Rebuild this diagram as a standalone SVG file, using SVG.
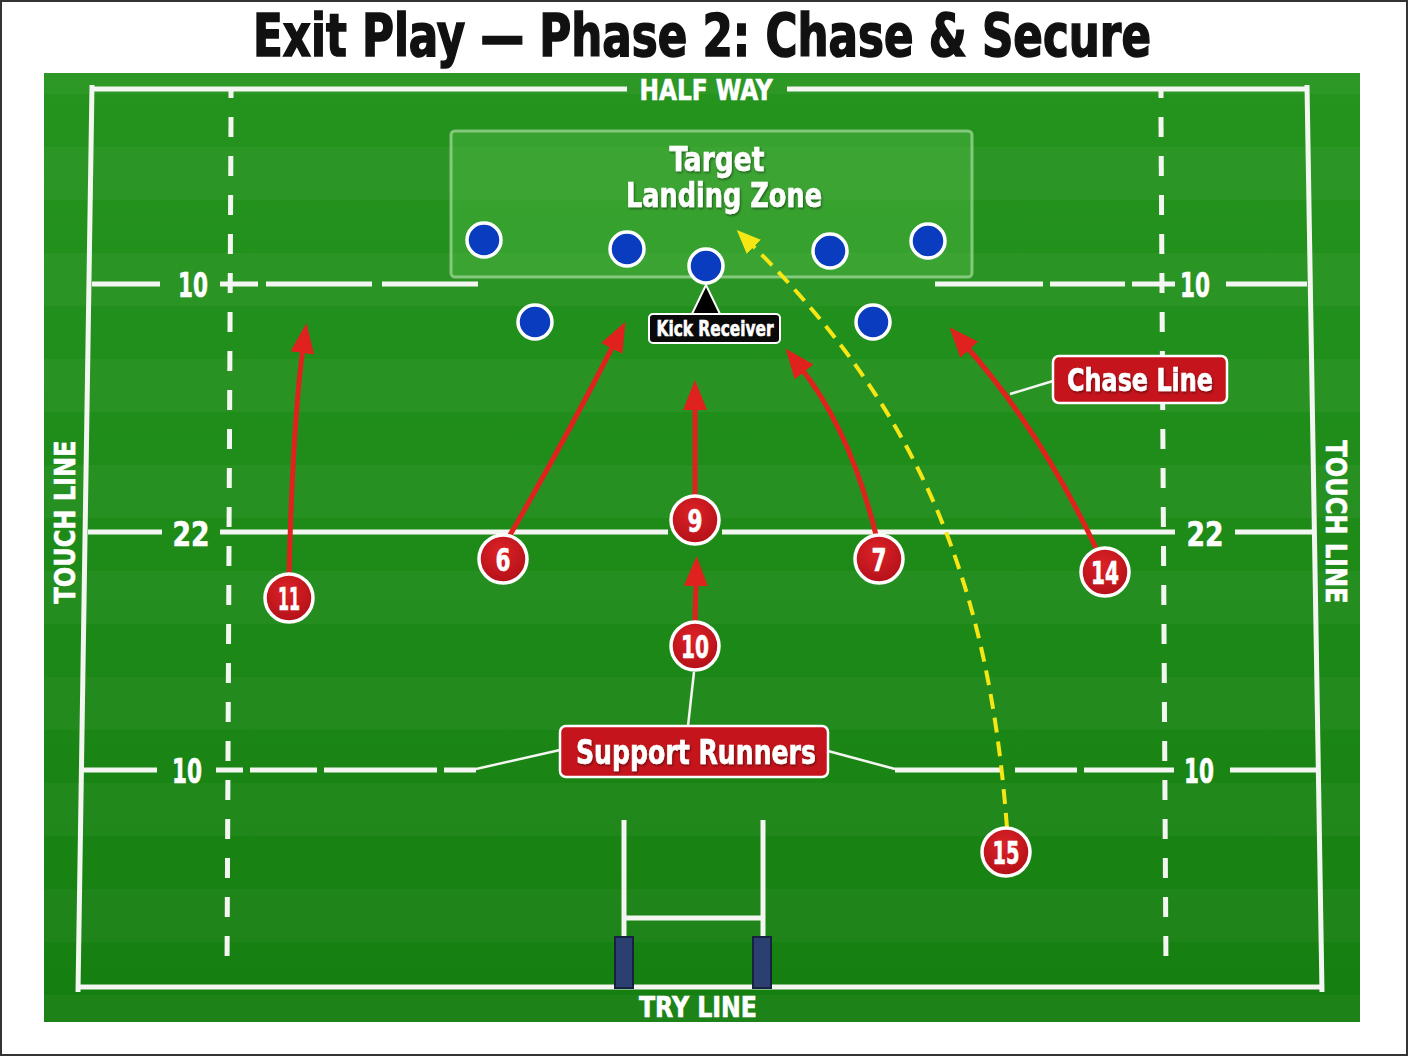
<svg xmlns="http://www.w3.org/2000/svg" width="1408" height="1056" viewBox="0 0 1408 1056">
<defs>
<linearGradient id="fieldGrad" x1="0" y1="0" x2="0" y2="1">
<stop offset="0" stop-color="#25941e"/>
<stop offset="0.5" stop-color="#1e8b19"/>
<stop offset="1" stop-color="#157e10"/>
</linearGradient>
<pattern id="stripes" x="0" y="41" width="1408" height="106" patternUnits="userSpaceOnUse">
<rect x="0" y="0" width="1408" height="53" fill="#ffffff" fill-opacity="0.035"/>
</pattern>
<radialGradient id="redGrad" cx="0.45" cy="0.35" r="0.7">
<stop offset="0" stop-color="#dc2227"/>
<stop offset="1" stop-color="#b10f18"/>
</radialGradient>
<filter id="shadow" x="-20%" y="-20%" width="140%" height="140%">
<feDropShadow dx="1" dy="1.5" stdDeviation="1.2" flood-color="#000" flood-opacity="0.45"/>
</filter>
<marker id="redHead" markerUnits="userSpaceOnUse" markerWidth="32" markerHeight="26" refX="5" refY="12" orient="auto">
<path d="M0,0 L30,12 L0,24 z" fill="#e0221e"/>
</marker>
<marker id="yelHead" markerUnits="userSpaceOnUse" markerWidth="26" markerHeight="22" refX="4" refY="10" orient="auto">
<path d="M0,0 L24,10 L0,20 z" fill="#f5e614"/>
</marker>
</defs>
<style>
.line{stroke:#f4f6f2;stroke-width:5;fill:none}
.dash{stroke:#f4f6f2;stroke-width:5;fill:none;stroke-dasharray:20 19}
.thin{stroke:#f4f6f2;stroke-width:2.5;fill:none}
.lbl{font-family:"Liberation Sans Narrow","DejaVu Sans Condensed","Roboto",sans-serif;font-weight:bold;fill:#ffffff;text-anchor:middle;stroke:#ffffff;stroke-width:0.6}
.num{font-family:"Liberation Sans Narrow","DejaVu Sans Condensed","Roboto",sans-serif;font-weight:bold;fill:#ffffff;text-anchor:middle;font-size:34px;stroke:#ffffff;stroke-width:0.6}
.pnum{font-family:"Liberation Sans Narrow","DejaVu Sans Condensed","Roboto",sans-serif;font-weight:bold;fill:#ffffff;text-anchor:middle;font-size:32px;stroke:#ffffff;stroke-width:0.6}
.red{fill:url(#redGrad);stroke:#ffffff;stroke-width:3.5}
.blue{fill:#0a3cc0;stroke:#ffffff;stroke-width:3.5}
.run{stroke:#e0221e;stroke-width:5;fill:none;marker-end:url(#redHead)}
.box{fill:#c5141c;stroke:#ffffff;stroke-width:2.5}
</style>
<rect x="0" y="0" width="1408" height="1056" fill="#ffffff"/>
<rect x="1" y="1" width="1406" height="1054" fill="none" stroke="#333333" stroke-width="2"/>
<text x="702" y="56" font-family="Liberation Sans Narrow,DejaVu Sans Condensed,Roboto,sans-serif" font-weight="bold" font-size="58" fill="#111111" stroke="#111111" stroke-width="1.5" text-anchor="middle" textLength="898" lengthAdjust="spacingAndGlyphs">Exit Play — Phase 2: Chase &amp; Secure</text>

<g id="pitch">
<rect x="44" y="73" width="1316" height="949" fill="url(#fieldGrad)"/>
<rect x="44" y="73" width="1316" height="949" fill="url(#stripes)"/>
<line class="line" x1="90" y1="89" x2="627" y2="89"/>
<line class="line" x1="787" y1="89" x2="1309" y2="89"/>
<line class="line" x1="92" y1="85" x2="78" y2="992"/>
<line class="line" x1="1307" y1="85" x2="1322" y2="992"/>
<line class="line" x1="76" y1="987" x2="1324" y2="987"/>
<line class="line" x1="231" y1="89" x2="231" y2="98"/>
<line class="dash" x1="231" y1="117" x2="227" y2="972"/>
<line class="line" x1="1161" y1="89" x2="1161" y2="98"/>
<line class="dash" x1="1161" y1="117" x2="1166" y2="972"/>
<path class="line" d="M92,284 H160 M220,284 H258 M266,284 H372 M382,284 H478 M935,284 H1043 M1050,284 H1125 M1132,284 H1175 M1226,284 H1307"/>
<path class="line" d="M88,532 H162 M220,532 H668 M722,532 H1175 M1235,532 H1316"/>
<path class="line" d="M80,770 H157 M216,770 H243 M250,770 H317 M324,770 H437 M444,770 H476 M895,770 H1001 M1015,770 H1077 M1084,770 H1174 M1230,770 H1317"/>
<path class="line" d="M624,820 V937 M763,820 V937 M624,918 H763"/>
<rect x="615" y="937" width="18" height="51" fill="#2b3f70" stroke="#16223f" stroke-width="2"/>
<rect x="753" y="937" width="18" height="51" fill="#2b3f70" stroke="#16223f" stroke-width="2"/>
<text class="lbl" x="706" y="100" font-size="29" textLength="133" lengthAdjust="spacingAndGlyphs">HALF WAY</text>
<text class="lbl" x="698" y="1017" font-size="29" textLength="118" lengthAdjust="spacingAndGlyphs">TRY LINE</text>
<text class="lbl" x="0" y="0" font-size="28" textLength="163" lengthAdjust="spacingAndGlyphs" transform="translate(75,522) rotate(-90)">TOUCH LINE</text>
<text class="lbl" x="0" y="0" font-size="28" textLength="163" lengthAdjust="spacingAndGlyphs" transform="translate(1326,522) rotate(90)">TOUCH LINE</text>
<text class="num" x="193" y="297" textLength="30" lengthAdjust="spacingAndGlyphs">10</text>
<text class="num" x="1195" y="297" textLength="30" lengthAdjust="spacingAndGlyphs">10</text>
<text class="num" x="191" y="546" textLength="37" lengthAdjust="spacingAndGlyphs">22</text>
<text class="num" x="1205" y="546" textLength="37" lengthAdjust="spacingAndGlyphs">22</text>
<text class="num" x="187" y="783" textLength="30" lengthAdjust="spacingAndGlyphs">10</text>
<text class="num" x="1199" y="783" textLength="30" lengthAdjust="spacingAndGlyphs">10</text>
</g>

<g id="target-zone">
<rect x="451" y="131" width="521" height="146" rx="4" fill="#4fb544" fill-opacity="0.45" stroke="#a8dca0" stroke-opacity="0.7" stroke-width="3"/>
<text class="lbl" x="717" y="171" font-size="33" filter="url(#shadow)" textLength="95" lengthAdjust="spacingAndGlyphs">Target</text>
<text class="lbl" x="724" y="207" font-size="33" filter="url(#shadow)" textLength="196" lengthAdjust="spacingAndGlyphs">Landing Zone</text>
</g>

<g id="connectors">
<path class="run" d="M289,574 Q293,420 303,348"/>
<path class="run" d="M510,535 Q565,440 614,344"/>
<path class="run" d="M695,495 L695,405"/>
<path class="run" d="M695,621 L696,581"/>
<path class="run" d="M876,535 Q850,430 801,368"/>
<path class="run" d="M1096,548 Q1040,430 966,346"/>
<path d="M1007,828 C990,600 930,420 751,244" fill="none" stroke="#f5e614" stroke-width="4" stroke-dasharray="15 9" marker-end="url(#yelHead)"/>
<line class="thin" x1="1010" y1="394" x2="1053" y2="381"/>
<line class="thin" x1="476" y1="769" x2="560" y2="750"/>
<line class="thin" x1="828" y1="751" x2="895" y2="769"/>
<line class="thin" x1="694" y1="672" x2="688" y2="726"/>
</g>

<g id="defenders">
<circle class="blue" cx="484" cy="240" r="17"/>
<circle class="blue" cx="627" cy="249" r="17"/>
<circle class="blue" cx="830" cy="251" r="17"/>
<circle class="blue" cx="928" cy="241" r="17"/>
<circle class="blue" cx="535" cy="322" r="17"/>
<circle class="blue" cx="873" cy="322" r="17"/>
</g>
<g id="kick-receiver">
<polygon points="706,285 691,316 721,316" fill="#000000" stroke="#ffffff" stroke-width="2"/>
<circle class="blue" cx="706" cy="266" r="17"/>
<rect x="649" y="314" width="131" height="29" rx="4" fill="#0a0a0a" stroke="#ffffff" stroke-width="2"/>
<text class="lbl" x="715" y="336" font-size="21" stroke-width="0.3" textLength="117" lengthAdjust="spacingAndGlyphs">Kick Receiver</text>
</g>

<g id="p11"><circle class="red" cx="289" cy="598" r="24"/><text class="pnum" x="289" y="610" textLength="22" lengthAdjust="spacingAndGlyphs">11</text></g>
<g id="p6"><circle class="red" cx="503" cy="559" r="24"/><text class="pnum" x="503" y="571" textLength="15" lengthAdjust="spacingAndGlyphs">6</text></g>
<g id="p9"><circle class="red" cx="695" cy="520" r="24"/><text class="pnum" x="695" y="532" textLength="15" lengthAdjust="spacingAndGlyphs">9</text></g>
<g id="p7"><circle class="red" cx="879" cy="559" r="24"/><text class="pnum" x="879" y="571" textLength="15" lengthAdjust="spacingAndGlyphs">7</text></g>
<g id="p14"><circle class="red" cx="1105" cy="572" r="24"/><text class="pnum" x="1105" y="584" textLength="28" lengthAdjust="spacingAndGlyphs">14</text></g>
<g id="p10"><circle class="red" cx="695" cy="646" r="24"/><text class="pnum" x="695" y="658" textLength="28" lengthAdjust="spacingAndGlyphs">10</text></g>
<g id="p15"><circle class="red" cx="1006" cy="852" r="24"/><text class="pnum" x="1006" y="864" textLength="27" lengthAdjust="spacingAndGlyphs">15</text></g>

<g id="chase-line-label">
<rect class="box" x="1053" y="356" width="174" height="47" rx="6"/>
<text class="lbl" x="1140" y="391" font-size="32" filter="url(#shadow)" textLength="146" lengthAdjust="spacingAndGlyphs">Chase Line</text>
</g>
<g id="support-runners-label">
<rect class="box" x="560" y="726" width="268" height="51" rx="6"/>
<text class="lbl" x="696" y="764" font-size="34" filter="url(#shadow)" textLength="240" lengthAdjust="spacingAndGlyphs">Support Runners</text>
</g>
</svg>
